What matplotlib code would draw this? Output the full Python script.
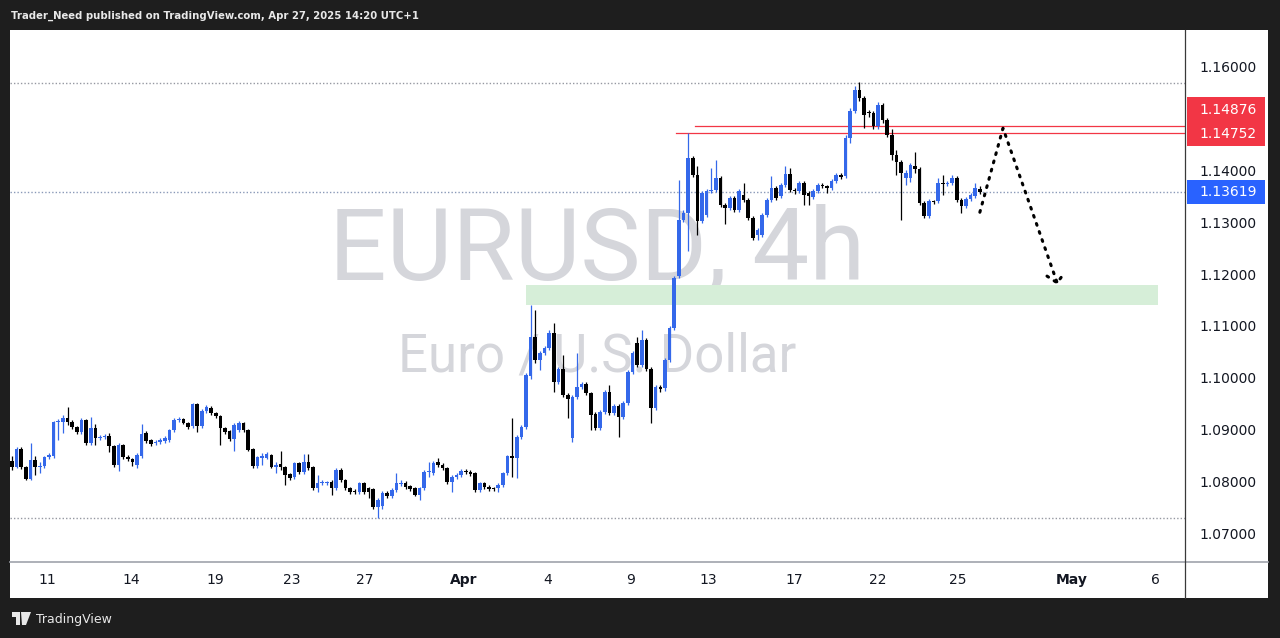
import matplotlib
matplotlib.use("Agg")
import matplotlib.pyplot as plt
from matplotlib.patches import Rectangle, Polygon
from matplotlib.lines import Line2D

# ---------------- data (EURUSD 4h) ----------------
opens = [1.0843,1.0831,1.0866,1.0831,1.0808,1.0845,1.0831,1.0833,1.0850,1.0852,
         1.0918,1.0918,1.0926,1.0918,1.0908,1.0899,1.0922,1.0877,1.0906,1.0887,
         1.0889,1.0891,1.0872,1.0835,1.0873,1.0850,1.0846,1.0835,1.0852,1.0897,
         1.0883,1.0877,1.0879,1.0881,1.0883,1.0902,1.0922,1.0924,1.0916,1.0910,
         1.0953,1.0910,1.0939,1.0945,1.0935,1.0929,1.0906,1.0900,1.0885,1.0902,
         1.0916,1.0902,1.0866,1.0833,1.0848,1.0848,1.0854,1.0831,1.0837,1.0831,
         1.0818,1.0812,1.0839,1.0821,1.0841,1.0831,1.0791,1.0800,1.0800,1.0802,
         1.0791,1.0825,1.0806,1.0791,1.0785,1.0783,1.0800,1.0791,1.0789,1.0754,
         1.0756,1.0781,1.0775,1.0787,1.0798,1.0800,1.0794,1.0791,1.0777,1.0791,
         1.0821,1.0820,1.0841,1.0835,1.0829,1.0802,1.0812,1.0816,1.0823,1.0821,
         1.0820,1.0787,1.0800,1.0793,1.0791,1.0791,1.0796,1.0820,1.0852,1.0848,
         1.0889,1.0908,1.1006,1.1082,1.1037,1.1051,1.1060,1.1089,1.0995,1.1020,
         1.0970,1.0887,1.0966,1.0985,1.0991,1.0974,1.0933,1.0906,1.0937,1.0976,
         1.0935,1.0949,1.0927,1.0955,1.1014,1.1070,1.1028,1.1076,1.1020,1.0945,
         1.0985,1.0983,1.1037,1.1099,1.1199,1.1307,1.1321,1.1427,1.1394,1.1305,
         1.1317,1.1363,1.1365,1.1388,1.1336,1.1330,1.1349,1.1326,1.1355,1.1346,
         1.1311,1.1278,1.1278,1.1317,1.1346,1.1369,1.1353,1.1375,1.1396,1.1365,
         1.1363,1.1378,1.1359,1.1351,1.1363,1.1375,1.1373,1.1369,1.1382,1.1394,
         1.1392,1.1465,1.1517,1.1558,1.1542,1.1515,1.1513,1.1488,1.1529,1.1500,
         1.1471,1.1432,1.1419,1.1388,1.1388,1.1411,1.1405,1.1340,1.1315,1.1344,
         1.1344,1.1378,1.1376,1.1378,1.1388,1.1346,1.1334,1.1347,1.1353,1.1367]
highs = [1.0852,1.0870,1.0870,1.0833,1.0877,1.0852,1.0841,1.0852,1.0858,1.0920,
         1.0924,1.0931,1.0947,1.0922,1.0910,1.0926,1.0924,1.0927,1.0914,1.0893,
         1.0895,1.0897,1.0873,1.0877,1.0875,1.0854,1.0848,1.0858,1.0914,1.0900,
         1.0885,1.0883,1.0887,1.0891,1.0904,1.0926,1.0927,1.0926,1.0918,1.0955,
         1.0955,1.0943,1.0951,1.0949,1.0937,1.0931,1.0908,1.0902,1.0916,1.0920,
         1.0918,1.0904,1.0868,1.0852,1.0858,1.0860,1.0856,1.0841,1.0862,1.0833,
         1.0820,1.0841,1.0841,1.0856,1.0856,1.0833,1.0816,1.0806,1.0804,1.0806,
         1.0829,1.0829,1.0808,1.0793,1.0789,1.0802,1.0802,1.0793,1.0791,1.0771,
         1.0785,1.0785,1.0791,1.0820,1.0806,1.0804,1.0796,1.0793,1.0793,1.0825,
         1.0841,1.0843,1.0848,1.0839,1.0831,1.0816,1.0820,1.0827,1.0827,1.0825,
         1.0822,1.0802,1.0802,1.0796,1.0793,1.0800,1.0822,1.0854,1.0926,1.0893,
         1.0912,1.1012,1.1143,1.1134,1.1055,1.1064,1.1095,1.1109,1.1024,1.1047,
         1.0974,1.0970,1.1051,1.0995,1.0995,1.0976,1.0937,1.0941,1.0980,1.0989,
         1.0953,1.0953,1.0959,1.1018,1.1055,1.1082,1.1095,1.1080,1.1024,1.0989,
         1.0989,1.1041,1.1103,1.1199,1.1384,1.1326,1.1475,1.1430,1.1411,1.1363,
         1.1367,1.1407,1.1423,1.1392,1.1340,1.1353,1.1353,1.1367,1.1378,1.1349,
         1.1315,1.1292,1.1321,1.1349,1.1392,1.1373,1.1378,1.1411,1.1407,1.1369,
         1.1382,1.1382,1.1363,1.1367,1.1378,1.1378,1.1375,1.1386,1.1398,1.1398,
         1.1471,1.1523,1.1565,1.1573,1.1546,1.1519,1.1517,1.1535,1.1533,1.1504,
         1.1482,1.1442,1.1423,1.1403,1.1417,1.1438,1.1409,1.1344,1.1347,1.1346,
         1.1388,1.1394,1.1382,1.1394,1.1392,1.1349,1.1351,1.1359,1.1378,1.1373]
lows = [1.0825,1.0829,1.0827,1.0806,1.0806,1.0816,1.0820,1.0829,1.0846,1.0848,
        1.0883,1.0897,1.0912,1.0904,1.0895,1.0895,1.0873,1.0873,1.0873,1.0883,
        1.0885,1.0860,1.0831,1.0823,1.0846,1.0843,1.0833,1.0829,1.0848,1.0877,
        1.0872,1.0873,1.0875,1.0877,1.0879,1.0899,1.0918,1.0914,1.0904,1.0906,
        1.0899,1.0906,1.0935,1.0931,1.0926,1.0873,1.0895,1.0881,1.0862,1.0899,
        1.0899,1.0862,1.0829,1.0829,1.0835,1.0846,1.0829,1.0820,1.0825,1.0796,
        1.0806,1.0808,1.0818,1.0818,1.0825,1.0787,1.0783,1.0796,1.0796,1.0777,
        1.0787,1.0802,1.0787,1.0779,1.0779,1.0779,1.0779,1.0771,1.0750,1.0733,
        1.0750,1.0771,1.0771,1.0783,1.0794,1.0789,1.0785,1.0775,1.0768,1.0787,
        1.0812,1.0816,1.0831,1.0825,1.0798,1.0783,1.0808,1.0812,1.0818,1.0814,
        1.0783,1.0783,1.0789,1.0785,1.0785,1.0783,1.0793,1.0816,1.0812,1.0810,
        1.0885,1.0904,1.1001,1.1031,1.1018,1.1047,1.1057,1.0976,1.0991,1.0966,
        1.0926,1.0879,1.0962,1.0981,1.0970,1.0902,1.0902,1.0902,1.0933,1.0931,
        1.0931,1.0889,1.0924,1.0951,1.1010,1.1024,1.1024,1.1016,1.0916,1.0941,
        1.0976,1.0978,1.1033,1.1095,1.1195,1.1303,1.1247,1.1390,1.1278,1.1301,
        1.1313,1.1359,1.1361,1.1332,1.1299,1.1326,1.1322,1.1322,1.1342,1.1307,
        1.1268,1.1269,1.1274,1.1313,1.1342,1.1345,1.1349,1.1371,1.1361,1.1357,
        1.1359,1.1336,1.1336,1.1347,1.1359,1.1369,1.1359,1.1365,1.1378,1.1386,
        1.1388,1.1455,1.1513,1.1536,1.1484,1.1506,1.1482,1.1482,1.1494,1.1467,
        1.1423,1.1394,1.1307,1.1375,1.1380,1.1398,1.1336,1.1311,1.1311,1.1338,
        1.1340,1.1355,1.1373,1.1375,1.1342,1.1321,1.1330,1.1344,1.1349,1.1357]
closes = [1.0831,1.0866,1.0831,1.0808,1.0845,1.0831,1.0833,1.0850,1.0854,1.0918,
          1.0920,1.0926,1.0918,1.0908,1.0899,1.0922,1.0877,1.0906,1.0887,1.0889,
          1.0891,1.0872,1.0835,1.0873,1.0850,1.0846,1.0841,1.0854,1.0895,1.0881,
          1.0875,1.0879,1.0883,1.0887,1.0902,1.0922,1.0924,1.0916,1.0908,1.0953,
          1.0910,1.0939,1.0947,1.0935,1.0929,1.0906,1.0899,1.0885,1.0912,1.0916,
          1.0902,1.0864,1.0833,1.0850,1.0852,1.0856,1.0831,1.0835,1.0831,1.0816,
          1.0810,1.0839,1.0821,1.0841,1.0829,1.0791,1.0800,1.0802,1.0802,1.0791,
          1.0825,1.0806,1.0791,1.0783,1.0783,1.0800,1.0783,1.0783,1.0754,1.0768,
          1.0781,1.0775,1.0787,1.0800,1.0800,1.0793,1.0789,1.0777,1.0791,1.0821,
          1.0823,1.0839,1.0835,1.0829,1.0802,1.0812,1.0816,1.0823,1.0821,1.0818,
          1.0787,1.0800,1.0793,1.0789,1.0789,1.0796,1.0820,1.0852,1.0848,1.0889,
          1.0908,1.1008,1.1082,1.1037,1.1051,1.1060,1.1089,1.0995,1.1020,1.0970,
          1.0962,1.0966,1.0985,1.0991,1.0974,1.0931,1.0906,1.0937,1.0976,1.0935,
          1.0949,1.0927,1.0955,1.1014,1.1051,1.1028,1.1076,1.1020,1.0945,1.0985,
          1.0981,1.1037,1.1099,1.1195,1.1307,1.1321,1.1427,1.1394,1.1305,1.1359,
          1.1363,1.1365,1.1388,1.1336,1.1330,1.1349,1.1326,1.1363,1.1346,1.1311,
          1.1272,1.1288,1.1317,1.1346,1.1369,1.1349,1.1375,1.1396,1.1365,1.1363,
          1.1378,1.1355,1.1353,1.1363,1.1375,1.1373,1.1369,1.1382,1.1394,1.1390,
          1.1465,1.1517,1.1558,1.1542,1.1509,1.1513,1.1488,1.1529,1.1500,1.1471,
          1.1432,1.1419,1.1398,1.1398,1.1413,1.1405,1.1340,1.1315,1.1344,1.1342,
          1.1378,1.1376,1.1378,1.1388,1.1346,1.1334,1.1347,1.1355,1.1369,1.1362]

price_ticks = [1.16, 1.14, 1.13, 1.12, 1.11, 1.10, 1.09, 1.08, 1.07]
time_labels = ["11", "14", "19", "23", "27", "Apr", "4", "9", "13", "17", "22", "25", "May", "6"]
time_label_pos = [7.6, 25.7, 43.8, 60.5, 76.2, 97.6, 115.6, 133.5, 150.3, 168.9, 187.0, 204.3, 228.9, 246.9]
bold_labels = {"Apr", "May"}

resist_hi = 1.14876
resist_lo = 1.14752
resist_hi_start = 147.5
resist_lo_start = 143.4
last_price = 1.13619
period_high = 1.1571
period_low = 1.0733
zone_bottom, zone_top = 1.1143, 1.1182
zone_start, zone_end = 111.0, 247.5
path_x = [209.0, 214.0, 225.7]
path_y = [1.1322, 1.1484, 1.1186]
arrow_wing_x = [223.5, 225.7, 227.4]
arrow_wing_y = [1.1199, 1.1186, 1.1207]

# ---------------- layout ----------------
W, H = 1280, 638
fig = plt.figure(figsize=(W / 100, H / 100), dpi=100, facecolor="#1e1e1e")

def fx(px):
    return px / W

def fy(py):
    return 1 - py / H

# white panel (behind everything)
fig.patches.append(Rectangle((fx(10), fy(598)), fx(1268) - fx(10), fy(30) - fy(598),
                             transform=fig.transFigure, facecolor="white", edgecolor="none", zorder=-5))

L, R, T, B = 10, 1185, 30, 562
ax = fig.add_axes([fx(L), fy(B), fx(R) - fx(L), fy(T) - fy(B)])
ax.set_facecolor("white")
for s in ax.spines.values():
    s.set_visible(False)
ax.set_xticks([])
ax.set_yticks([])
ymin, ymax = 1.06481, 1.16732
xmin, xmax = -0.43, 253.3
ax.set_xlim(xmin, xmax)
ax.set_ylim(ymin, ymax)

# watermark
ax.text(0.5, 0.531, "EURUSD, 4h", transform=ax.transAxes, ha="center", va="baseline",
        fontsize=73, color="#d5d6db", family="Roboto", zorder=0)
ax.text(0.5, 0.358, "Euro / U.S. Dollar", transform=ax.transAxes, ha="center", va="baseline",
        fontsize=38, color="#d5d6db", family="Roboto", zorder=0)

# demand zone
ax.add_patch(Rectangle((zone_start, zone_bottom), zone_end - zone_start, zone_top - zone_bottom,
                       facecolor="#d6eed8", edgecolor="none", zorder=1))

# dotted reference lines
for lvl, col in [(period_high, "#9598a1"), (period_low, "#9598a1"), (last_price, "#8a99b8")]:
    ax.axhline(lvl, color=col, lw=1.0, ls=(0, (1, 1.5)), zorder=1)

# red resistance lines
ax.plot([resist_hi_start, xmax], [resist_hi, resist_hi], color="#f23645", lw=0.9, zorder=2)
ax.plot([resist_lo_start, xmax], [resist_lo, resist_lo], color="#f23645", lw=0.9, zorder=2)

# candles
bull_c, bear_c = "#3468ea", "#000000"
n = len(closes)
for i in range(n):
    o, h, l, c = opens[i], highs[i], lows[i], closes[i]
    col = bull_c if c >= o else bear_c
    ax.vlines(i, l, h, color=col, lw=0.9, zorder=3)
    bot = min(o, c)
    ht = max(abs(c - o), 0.00006)
    ax.bar(i, ht, bottom=bot, width=0.78, color=col, edgecolor="none", zorder=4)

# projected path
ax.plot(path_x, path_y, color="black", lw=2.2, ls=(0, (0.6, 2.2)), dash_capstyle="round", zorder=5)
ax.plot(arrow_wing_x, arrow_wing_y, color="black", lw=2.2, ls=(0, (0.6, 2.2)), dash_capstyle="round", zorder=5)

# price scale
pax = fig.add_axes([fx(R), fy(B), fx(1268) - fx(R), fy(T) - fy(B)], sharey=ax)
pax.set_facecolor("white")
for s in pax.spines.values():
    s.set_visible(False)
pax.set_xticks([])
pax.tick_params(left=False, labelleft=False)
pax.set_xlim(0, 1)
for p in price_ticks:
    pax.text(0.52, p, f"{p:.5f}", ha="center", va="center", fontsize=10, color="#131722")
# red label box
red_top, red_bot = 1.15441, 1.14497
pax.add_patch(Rectangle((0.024, red_bot), 0.94, red_top - red_bot, facecolor="#f23645", edgecolor="none"))
pax.text(0.52, 1.15190, f"{resist_hi:.5f}", ha="center", va="center", fontsize=10, color="white")
pax.text(0.52, 1.14728, f"{resist_lo:.5f}", ha="center", va="center", fontsize=10, color="white")
# blue last price box
pax.add_patch(Rectangle((0.024, 1.13379), 0.94, 1.13841 - 1.13379, facecolor="#2962ff", edgecolor="none"))
pax.text(0.52, last_price, f"{last_price:.5f}", ha="center", va="center", fontsize=10, color="white")

# time scale
tax = fig.add_axes([fx(L), fy(598), fx(R) - fx(L), fy(B) - fy(598)], sharex=ax)
tax.set_facecolor("white")
for s in tax.spines.values():
    s.set_visible(False)
tax.tick_params(bottom=False, labelbottom=False, left=False, labelleft=False)
tax.set_ylim(0, 1)
for lab, pos in zip(time_labels, time_label_pos):
    tax.text(pos, 0.5, lab, ha="center", va="center", fontsize=10, color="#131722",
             fontweight="bold" if lab in bold_labels else "normal")

# separators
fig.lines.append(Line2D([fx(10), fx(1268)], [fy(562), fy(562)], transform=fig.transFigure,
                        color="#a0a3ab", lw=1.2, zorder=10))
fig.lines.append(Line2D([fx(1185), fx(1185)], [fy(30), fy(598)], transform=fig.transFigure,
                        color="#3a3a3a", lw=0.9, zorder=10))

# header and footer
fig.text(fx(11), fy(16), "Trader_Need published on TradingView.com, Apr 27, 2025 14:20 UTC+1",
         ha="left", va="center", fontsize=7.3, color="#e8e8e8", fontweight="bold")
fig.text(fx(36), fy(619), "TradingView", ha="left", va="center", fontsize=9, color="#e8e8e8")
# logo
fig.patches.append(Rectangle((fx(12), fy(617)), fx(8) - fx(0), fy(612) - fy(617),
                             transform=fig.transFigure, facecolor="#e8e8e8", edgecolor="none"))
fig.patches.append(Rectangle((fx(16), fy(625)), fx(4) - fx(0), fy(614) - fy(625),
                             transform=fig.transFigure, facecolor="#e8e8e8", edgecolor="none"))
fig.patches.append(Polygon([(fx(21), fy(612)), (fx(31), fy(612)), (fx(26), fy(625)), (fx(22), fy(625))],
                           closed=True, transform=fig.transFigure, facecolor="#e8e8e8", edgecolor="none"))

fig.savefig("out.png", dpi=100, facecolor=fig.get_facecolor())
